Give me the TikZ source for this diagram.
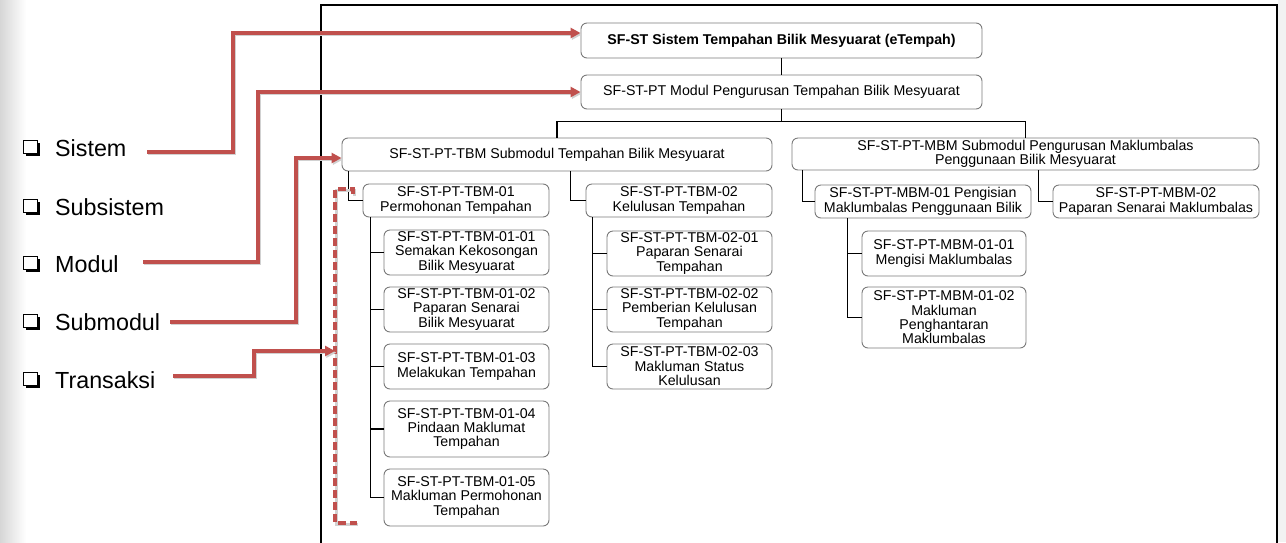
\documentclass[tikz,border=0pt]{standalone}
\usepackage{fontspec}
\setmainfont{Liberation Sans}
\usetikzlibrary{arrows.meta,shadows}
\definecolor{hlred}{HTML}{C0504D}
\definecolor{boxline}{HTML}{7A7A7A}
\begin{document}
\begin{tikzpicture}[x=1pt,y=-1pt,
  box/.style={draw=boxline,line width=0.9pt,rounded corners=6pt,fill=white,
    align=center,inner sep=0pt,font=\fontsize{14.2}{14.4}\selectfont},
  tree/.style={line width=1.6pt,black},
  hl/.style={draw=hlred,line width=3.2pt,
    preaction={draw=black!18,line width=3.2pt,transform canvas={shift={(1.3pt,-1.6pt)}}}},
  hlarrow/.style={hl,-{Triangle[length=10pt,width=10pt]}},
  legend/.style={anchor=west,inner sep=0pt,font=\fontsize{23.3}{26}\selectfont},
  chk/.style={draw=black,line width=0.9pt,fill=white,minimum size=13.5pt,inner sep=0pt,
    general shadow={shadow xshift=2.4pt,shadow yshift=-2.4pt,fill=black}}]
\useasboundingbox (0,0) rectangle (1286,542);
% page background
\fill[white] (0,0) rectangle (1286,542);
\shade[left color=black!16,right color=white] (0,0) rectangle (26,542);
\fill[black!5] (1278,0) rectangle (1286,542);
% frame around the hierarchy
\draw[line width=1.3pt] (321,545) -- (321,5) -- (1277,5) -- (1277,545);

% ---------- hierarchy ----------
\node[box,minimum width=401pt,minimum height=35pt,font=\fontsize{14.2}{14.4}\selectfont\bfseries]
  (sys) at (781.5,40.5) {SF-ST Sistem Tempahan Bilik Mesyuarat (eTempah)};
\node[box,minimum width=401pt,minimum height=34pt] (mod) at (781.5,92)
  {SF-ST-PT Modul Pengurusan Tempahan Bilik Mesyuarat};
\node[box,minimum width=430pt,minimum height=33pt] (tbm) at (557,154.5)
  {SF-ST-PT-TBM Submodul Tempahan Bilik Mesyuarat};
\node[box,minimum width=467pt,minimum height=32pt] (mbm) at (1025.5,154)
  {SF-ST-PT-MBM Submodul Pengurusan Maklumbalas\\Penggunaan Bilik Mesyuarat};

\node[box,minimum width=186pt,minimum height=33pt] (t1) at (456,200.5)
  {SF-ST-PT-TBM-01\\Permohonan Tempahan};
\node[box,minimum width=186pt,minimum height=33pt] (t2) at (679,200.5)
  {SF-ST-PT-TBM-02\\Kelulusan Tempahan};

\node[box,minimum width=165pt,minimum height=45pt] (t11) at (466.5,252.5)
  {SF-ST-PT-TBM-01-01\\Semakan Kekosongan\\Bilik Mesyuarat};
\node[box,minimum width=165pt,minimum height=45pt] (t12) at (466.5,309.5)
  {SF-ST-PT-TBM-01-02\\Paparan Senarai\\Bilik Mesyuarat};
\node[box,minimum width=165pt,minimum height=45pt] (t13) at (466.5,366.5)
  {SF-ST-PT-TBM-01-03\\Melakukan Tempahan};
\node[box,minimum width=165pt,minimum height=56pt] (t14) at (466.5,429)
  {SF-ST-PT-TBM-01-04\\Pindaan Maklumat\\Tempahan};
\node[box,minimum width=165pt,minimum height=57pt] (t15) at (466.5,497.5)
  {SF-ST-PT-TBM-01-05\\Makluman Permohonan\\Tempahan};

\node[box,minimum width=165pt,minimum height=45pt] (t21) at (689.5,253.5)
  {SF-ST-PT-TBM-02-01\\Paparan Senarai\\Tempahan};
\node[box,minimum width=165pt,minimum height=45pt] (t22) at (689.5,309.5)
  {SF-ST-PT-TBM-02-02\\Pemberian Kelulusan\\Tempahan};
\node[box,minimum width=165pt,minimum height=45pt] (t23) at (689.5,366.5)
  {SF-ST-PT-TBM-02-03\\Makluman Status\\Kelulusan};

\node[box,minimum width=216pt,minimum height=33pt] (m1) at (923,201.5)
  {SF-ST-PT-MBM-01 Pengisian\\Maklumbalas Penggunaan Bilik};
\node[box,minimum width=206pt,minimum height=33pt] (m2) at (1156,201.5)
  {SF-ST-PT-MBM-02\\Paparan Senarai Maklumbalas};
\node[box,minimum width=164pt,minimum height=45pt] (m11) at (944,253.5)
  {SF-ST-PT-MBM-01-01\\Mengisi Maklumbalas};
\node[box,minimum width=164pt,minimum height=61pt] (m12) at (944,317.5)
  {SF-ST-PT-MBM-01-02\\Makluman\\Penghantaran\\Maklumbalas};

% tree connectors
\draw[tree] (sys.south) -- (mod.north);
\draw[tree] (mod.south) -- ++(0,12) -| (tbm.north);
\draw[tree] (mod.south) -- ++(0,12) -| (mbm.north);
\draw[tree] ([xshift=7pt]tbm.south west) |- (t1.west);
\draw[tree] ([xshift=-15pt]t2.west |- tbm.south) |- (t2.west);
\foreach \c in {t11,t12,t13,t14,t15}
  \draw[tree] ([xshift=8pt]t1.south west) |- (\c.west);
\foreach \c in {t21,t22,t23}
  \draw[tree] ([xshift=7pt]t2.south west) |- (\c.west);
\draw[tree] ([xshift=11pt]mbm.south west) |- (m1.west);
\draw[tree] ([xshift=-14pt]m2.west |- mbm.south) |- (m2.west);
\foreach \c in {m11,m12}
  \draw[tree] ([xshift=33pt]m1.south west) |- (\c.west);

% ---------- legend ----------
\foreach \n/\y/\t in {lsys/148/Sistem,lsub/207/Subsistem,lmod/264/Modul,lsm/322/Submodul,ltr/380/Transaksi}{
  \node[chk] (\n box) at (30.5,\y-1) {};
  \node[legend] (\n) at (55,\y) {\t};
}

% transaction bracket
\draw[hl,dash pattern=on 8pt off 4pt] (353,194) -- (353,189) -- (335,189) -- (335,523) -- (357,523);
\coordinate (brk) at (335,351);

% level pointers
\coordinate (p1) at (147,152);
\coordinate (p3) at (143,262);
\coordinate (p4) at (170,322);
\coordinate (p5) at (173,376);
\draw[hlarrow] (p1) -- ++(86,0) |- ([yshift=7.5pt]sys.west);
\draw[hlarrow] (p3) -- ++(115,0) |- (mod.west);
\draw[hlarrow] (p4) -- ++(126,0) |- ([yshift=-3.5pt]tbm.west);
\draw[hlarrow] (p5) -- ++(81,0) |- (brk);
\end{tikzpicture}
\end{document}
